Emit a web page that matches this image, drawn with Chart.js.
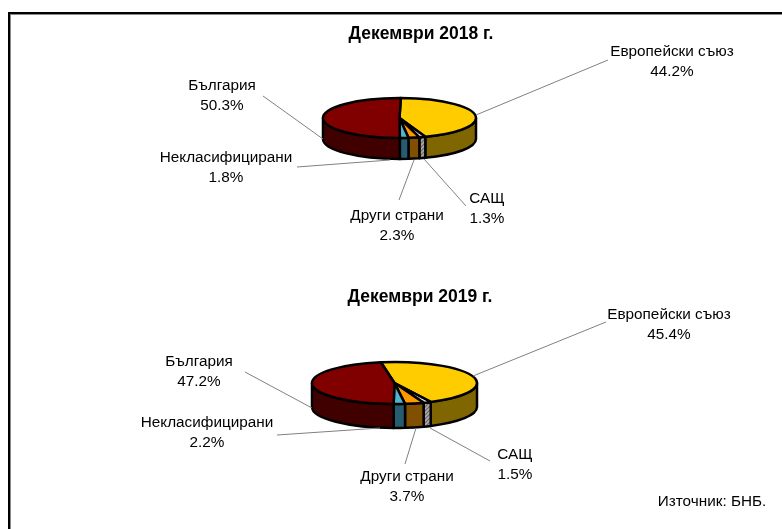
<!DOCTYPE html>
<html>
<head>
<meta charset="utf-8">
<script src="https://cdn.jsdelivr.net/npm/chart.js@4"></script>
<style>
  html, body { margin: 0; padding: 0; background: #fff; }
  body { position: relative; width: 782px; height: 529px; overflow: hidden; }
  #frame { position: absolute; left: 8px; top: 12px; width: 774px; height: 517px;
           border-left: 2px solid #000; border-top: 2px solid #000; box-shadow: inset 1px 1px 0 #888; }
  canvas { position: absolute; left: 0; }
</style>
</head>
<body>
<div id="frame"></div>
<canvas id="pieTop" width="782" height="265" style="top:0"></canvas>
<canvas id="pieBottom" width="782" height="265" style="top:264px"></canvas>
<script>
const categories = ['Европейски съюз', 'САЩ', 'Други страни', 'Некласифицирани', 'България'];
const values2018 = [44.2, 1.3, 2.3, 1.8, 50.3];
const values2019 = [45.4, 1.5, 3.7, 2.2, 47.2];

const topColors = ['#ffcc00', 'hatchTop', '#ff9900', '#4fb4d0', '#800000'];
const sideColors = ['#806600', 'hatchSide', '#805000', '#265c70', '#400000'];

// label anchors in page pixels: centre x, first line y, then leader line x1,y1,x2,y2
const labels2018 = [
  [672, 52, 608, 60, 476, 115],
  [487, 199, 466, 206, 424, 159],
  [397, 216, 399, 200, 414, 160],
  [226, 158, 297, 167, 390, 160],
  [222, 86, 263, 96, 323, 139],
];
const labels2019 = [
  [669, 315, 606, 322, 473, 376],
  [515, 455, 490, 461, 430, 428],
  [407, 477, 405, 464, 416, 428],
  [207, 423, 277, 435, 380, 428],
  [199, 362, 245, 372, 312, 408],
];

function makeHatch(bg, fg) {
  const c = document.createElement('canvas');
  c.width = 4;
  c.height = 4;
  const g = c.getContext('2d');
  g.fillStyle = bg;
  g.fillRect(0, 0, 4, 4);
  g.strokeStyle = fg;
  g.lineWidth = 1.2;
  g.beginPath();
  g.moveTo(-1, 1); g.lineTo(1, -1);
  g.moveTo(0, 4); g.lineTo(4, 0);
  g.moveTo(3, 5); g.lineTo(5, 3);
  g.stroke();
  return g.createPattern(c, 'repeat');
}

const hatches = { hatchTop: makeHatch('#ffffff', '#c8a8b0'), hatchSide: makeHatch('#b0a8ac', '#6c6268') };
const paint = (name) => hatches[name] || name;

// Chart.js computes the slice angles, this only paints them as a tilted disc
const pie3d = {
  id: 'pie3d',
  beforeDatasetsDraw(chart, args, opts) {
    const ctx = chart.ctx;
    const arcs = chart.getDatasetMeta(0).data;
    ctx.save();
    ctx.lineWidth = 2.5;
    ctx.strokeStyle = '#000';
    ctx.lineJoin = 'round';
    const full = Math.PI * 2;
    arcs.forEach((arc, i) => {
      const rx = arc.outerRadius;
      const ry = rx * opts.squash;
      let s = arc.startAngle % full;
      if (s < 0) s += full;
      const e = s + (arc.endAngle - arc.startAngle);
      [[0, Math.PI], [full, full + Math.PI]].forEach(([lo, hi]) => {
        const a = Math.max(s, lo);
        const b = Math.min(e, hi);
        if (b <= a) return;
        ctx.beginPath();
        ctx.ellipse(arc.x, arc.y, rx, ry, 0, a, b);
        ctx.ellipse(arc.x, arc.y + opts.depth, rx, ry, 0, b, a, true);
        ctx.closePath();
        ctx.fillStyle = paint(sideColors[i]);
        ctx.fill();
        ctx.stroke();
      });
    });
    arcs.forEach((arc, i) => {
      const rx = arc.outerRadius;
      ctx.beginPath();
      ctx.moveTo(arc.x, arc.y);
      ctx.ellipse(arc.x, arc.y, rx, rx * opts.squash, 0, arc.startAngle, arc.endAngle);
      ctx.closePath();
      ctx.fillStyle = paint(topColors[i]);
      ctx.fill();
      ctx.stroke();
    });
    ctx.restore();
    return false;
  },
  afterDraw(chart, args, opts) {
    const ctx = chart.ctx;
    const off = opts.offsetY;
    const vals = chart.data.datasets[0].data;
    ctx.save();
    ctx.strokeStyle = '#808080';
    ctx.lineWidth = 1;
    opts.anchors.forEach((a) => {
      ctx.beginPath();
      ctx.moveTo(a[2], a[3] - off);
      ctx.lineTo(a[4], a[5] - off);
      ctx.stroke();
    });
    ctx.fillStyle = '#000';
    ctx.textAlign = 'center';
    ctx.textBaseline = 'middle';
    ctx.font = '15.3px "Liberation Sans"';
    opts.anchors.forEach((a, i) => {
      ctx.fillText(chart.data.labels[i], a[0], a[1] - off);
      ctx.fillText(vals[i].toFixed(1) + '%', a[0], a[1] + 19.5 - off);
    });
    ctx.font = 'bold 17.5px "Liberation Sans"';
    ctx.fillText(opts.heading, opts.headingX, opts.headingY - off);
    if (opts.source) {
      ctx.font = '15.3px "Liberation Sans"';
      ctx.fillText(opts.source, 712, 502 - off);
    }
    ctx.restore();
  },
};

function makePie(id, values, rotation, padding, opts) {
  return new Chart(document.getElementById(id), {
    type: 'pie',
    data: {
      labels: categories,
      datasets: [{ data: values, borderWidth: 0, hoverOffset: 0 }],
    },
    options: {
      responsive: false,
      animation: false,
      events: [],
      rotation: rotation,
      layout: { padding: padding },
      plugins: { legend: { display: false }, tooltip: { enabled: false }, pie3d: opts },
    },
    plugins: [pie3d],
  });
}

makePie('pieTop', values2018, 1,
  { left: 323, right: 306, top: 41.5, bottom: 70.5 },
  { squash: 0.261, depth: 21, anchors: labels2018, offsetY: 0, heading: 'Декември 2018 г.', headingX: 421, headingY: 34 });

makePie('pieBottom', values2019, -9.5,
  { left: 312, right: 305, top: 36.5, bottom: 63.5 },
  { squash: 0.255, depth: 24, anchors: labels2019, offsetY: 264, heading: 'Декември 2019 г.', headingX: 420, headingY: 297, source: 'Източник: БНБ.' });
</script>
</body>
</html>
